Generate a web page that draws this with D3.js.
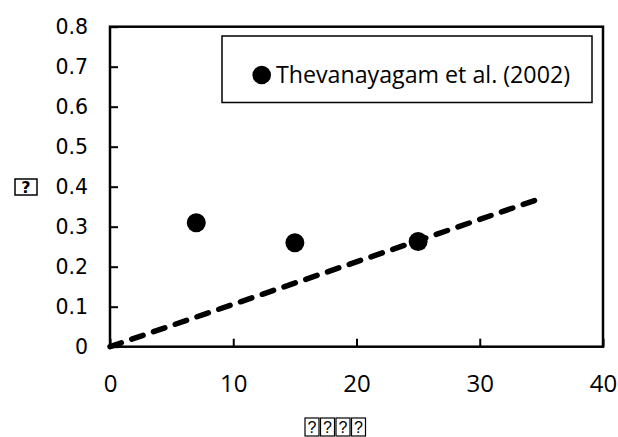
<!DOCTYPE html>
<html>
<head>
<meta charset="utf-8">
<script src="https://cdn.jsdelivr.net/npm/d3@7"></script>
<style>
  body { margin: 0; background: #fff; }
</style>
</head>
<body>
<svg id="chart"></svg>
<script>
// data
const pointX = [7, 15, 25]
const pointY = [0.31, 0.26, 0.263]
const fitX = [0, 34.5]
const fitY = [0, 0.366]
const xTicks = [0, 10, 20, 30, 40]
const yTicks = [0, 0.1, 0.2, 0.3, 0.4, 0.5, 0.6, 0.7, 0.8]
const legendLabel = "Thevanayagam et al. (2002)"

const W = 618, H = 437
const margin = { top: 26.7, right: 15, bottom: 90.3, left: 110 }
const width = W - margin.left - margin.right
const height = H - margin.top - margin.bottom

const svg = d3.select("#chart")
    .attr("width", W)
    .attr("height", H)
    .style("background", "#fff")

const g = svg.append("g")
    .attr("transform", `translate(${margin.left}, ${margin.top})`)

const x = d3.scaleLinear().domain([0, 40]).range([0, 493])
const y = d3.scaleLinear().domain([0, 0.8]).range([height, 0])

// x axis, ticks pointing inward
const xAxis = g.append("g")
    .attr("transform", `translate(0, ${height})`)
    .call(d3.axisBottom(x).tickValues(xTicks).tickSizeInner(-8).tickSizeOuter(0).tickPadding(28))
xAxis.select(".domain").remove()
xAxis.selectAll(".tick line").attr("stroke", "#000").attr("stroke-width", 2)
xAxis.selectAll("text")
    .style("font-family", "'Open Sans', sans-serif")
    .style("font-size", "24px")
    .attr("fill", "#000")

// y axis
const yAxis = g.append("g")
    .call(d3.axisLeft(y).tickValues(yTicks).tickSizeInner(-8).tickSizeOuter(0).tickPadding(22)
        .tickFormat(d => d === 0 ? "0" : d3.format(".1f")(d)))
yAxis.select(".domain").remove()
yAxis.selectAll(".tick line").attr("stroke", "#000").attr("stroke-width", 2)
yAxis.selectAll("text")
    .style("font-family", "'DejaVu Sans', sans-serif")
    .style("font-size", "20.5px")
    .attr("fill", "#000")

// frame of the plot area
g.append("rect")
    .attr("x", 0).attr("y", 0)
    .attr("width", x(40)).attr("height", height)
    .attr("fill", "none")
    .attr("stroke", "#000")
    .attr("stroke-width", 2.5)

// dashed trend line
const fit = fitX.map((d, i) => ({ x: d, y: fitY[i] }))
g.append("path")
    .datum(fit)
    .attr("d", d3.line().x(d => x(d.x)).y(d => y(d.y)))
    .attr("fill", "none")
    .attr("stroke", "#000")
    .attr("stroke-width", 5.5)
    .attr("stroke-linecap", "round")
    .attr("stroke-dasharray", "12 11")

// data points
g.append("g")
    .selectAll("circle")
    .data(pointX.map((d, i) => ({ x: d, y: pointY[i] })))
    .enter().append("circle")
    .attr("cx", d => x(d.x))
    .attr("cy", d => y(d.y))
    .attr("r", 9.5)
    .attr("fill", "#000")

// legend
svg.append("rect")
    .attr("x", 222).attr("y", 36)
    .attr("width", 370).attr("height", 66.5)
    .attr("fill", "#fff")
    .attr("stroke", "#000")
    .attr("stroke-width", 1.5)
svg.append("circle")
    .attr("cx", 261.7).attr("cy", 75)
    .attr("r", 9.3)
    .attr("fill", "#000")
svg.append("text")
    .attr("x", 276).attr("y", 83)
    .style("font-family", "'Open Sans', sans-serif")
    .style("font-size", "24px")
    .attr("textLength", 294)
    .attr("lengthAdjust", "spacingAndGlyphs")
    .attr("fill", "#000")
    .text(legendLabel)

// axis titles (missing glyphs in the source, shown as boxed question marks)
const yTitle = svg.append("g").attr("transform", "translate(15, 179)")
yTitle.append("rect")
    .attr("width", 22).attr("height", 16)
    .attr("fill", "none").attr("stroke", "#000").attr("stroke-width", 1.5)
yTitle.append("text")
    .attr("x", 11).attr("y", 14)
    .attr("text-anchor", "middle")
    .style("font-family", "'DejaVu Sans', sans-serif")
    .style("font-size", "16px")
    .style("font-weight", "bold")
    .text("?")

const xTitleChars = ["?", "?", "?", "?"]
const xTitle = svg.append("g").attr("transform", "translate(305, 418)")
xTitle.selectAll("rect")
    .data(xTitleChars)
    .enter().append("rect")
    .attr("x", (d, i) => i * 15.5)
    .attr("width", 14).attr("height", 18)
    .attr("fill", "none").attr("stroke", "#000").attr("stroke-width", 1.2)
xTitle.selectAll("text")
    .data(xTitleChars)
    .enter().append("text")
    .attr("x", (d, i) => i * 15.5 + 7)
    .attr("y", 15)
    .attr("text-anchor", "middle")
    .style("font-family", "'Liberation Sans', Arial, sans-serif")
    .style("font-size", "16px")
    .text(d => d)
</script>
</body>
</html>
